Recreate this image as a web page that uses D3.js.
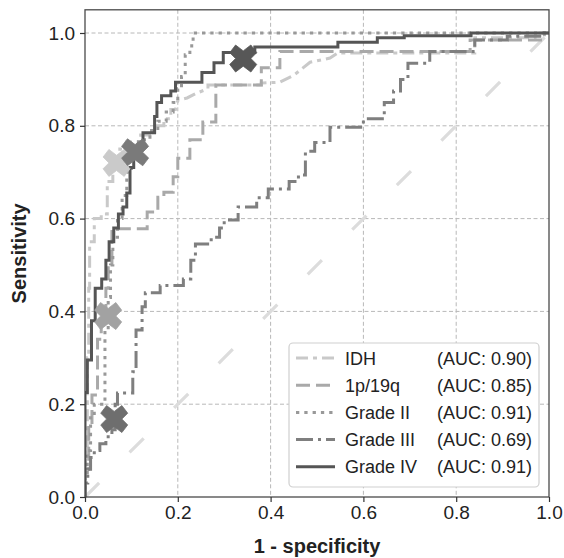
<!DOCTYPE html>
<html>
<head>
<meta charset="utf-8">
<script src="https://cdn.jsdelivr.net/npm/d3@7"></script>
<style>
  html, body { margin: 0; padding: 0; background: #fff; }
  svg text { font-family: "Liberation Sans", Arial, Helvetica, sans-serif; fill: #222; }
</style>
</head>
<body>
<div id="chart"></div>
<script>
// ROC points [1 - specificity, sensitivity]
const idhRoc = [[0,0],[0,0.1],[0.005,0.1],[0.005,0.3],[0.008,0.3],[0.008,0.45],[0.01,0.45],[0.01,0.55],[0.02,0.55],[0.02,0.6],[0.035,0.6],[0.035,0.61],[0.048,0.61],[0.048,0.68],[0.06,0.68],[0.06,0.72],[0.075,0.72],[0.075,0.75],[0.09,0.75],[0.09,0.765],[0.12,0.765],[0.12,0.78],[0.15,0.78],[0.15,0.8],[0.17,0.8],[0.17,0.815],[0.185,0.815],[0.185,0.835],[0.195,0.835],[0.2,0.855],[0.22,0.86],[0.24,0.87],[0.265,0.88],[0.265,0.888],[0.38,0.888],[0.38,0.892],[0.42,0.894],[0.45,0.909],[0.485,0.937],[0.528,0.946],[0.545,0.957],[0.84,0.957],[0.84,0.99],[0.97,0.99],[0.97,1],[1,1]];

const codelRoc = [[0,0],[0,0.06],[0.008,0.06],[0.008,0.15],[0.015,0.15],[0.015,0.22],[0.027,0.22],[0.027,0.34],[0.035,0.34],[0.035,0.39],[0.045,0.39],[0.045,0.45],[0.05,0.45],[0.05,0.5],[0.058,0.5],[0.058,0.578],[0.134,0.578],[0.134,0.614],[0.157,0.614],[0.157,0.646],[0.17,0.646],[0.17,0.657],[0.19,0.657],[0.19,0.69],[0.2,0.69],[0.2,0.73],[0.226,0.73],[0.226,0.77],[0.254,0.77],[0.254,0.808],[0.282,0.808],[0.282,0.888],[0.38,0.888],[0.38,0.925],[0.42,0.925],[0.42,0.96],[0.83,0.96],[0.83,0.985],[0.91,0.985],[0.99,0.985],[0.99,1],[1,1]];

const grade2Roc = [[0,0],[0,0.04],[0.005,0.04],[0.005,0.1],[0.012,0.1],[0.012,0.18],[0.02,0.18],[0.02,0.2],[0.043,0.2],[0.043,0.36],[0.05,0.36],[0.05,0.43],[0.055,0.43],[0.055,0.5],[0.06,0.5],[0.06,0.56],[0.07,0.56],[0.07,0.6],[0.08,0.6],[0.08,0.65],[0.09,0.65],[0.09,0.7],[0.1,0.7],[0.1,0.74],[0.115,0.74],[0.115,0.77],[0.14,0.77],[0.14,0.79],[0.157,0.79],[0.157,0.81],[0.175,0.81],[0.175,0.83],[0.19,0.83],[0.19,0.85],[0.2,0.85],[0.2,0.88],[0.208,0.88],[0.208,0.906],[0.216,0.906],[0.216,0.953],[0.226,0.953],[0.226,0.963],[0.23,0.963],[0.23,0.981],[0.233,0.981],[0.233,1],[1,1]];

const grade3Roc = [[0,0],[0,0.03],[0.006,0.03],[0.006,0.06],[0.012,0.06],[0.012,0.085],[0.02,0.085],[0.02,0.1],[0.032,0.1],[0.032,0.115],[0.045,0.115],[0.045,0.13],[0.058,0.13],[0.058,0.145],[0.065,0.145],[0.065,0.2],[0.07,0.2],[0.07,0.224],[0.103,0.224],[0.103,0.27],[0.11,0.27],[0.11,0.36],[0.123,0.36],[0.123,0.41],[0.13,0.41],[0.13,0.44],[0.162,0.44],[0.162,0.456],[0.212,0.456],[0.212,0.47],[0.228,0.47],[0.228,0.51],[0.238,0.51],[0.238,0.545],[0.272,0.545],[0.272,0.56],[0.29,0.56],[0.29,0.58],[0.3,0.58],[0.3,0.597],[0.33,0.597],[0.33,0.625],[0.37,0.625],[0.37,0.645],[0.395,0.645],[0.395,0.664],[0.44,0.664],[0.44,0.68],[0.46,0.68],[0.46,0.694],[0.475,0.694],[0.475,0.745],[0.495,0.745],[0.495,0.764],[0.528,0.764],[0.528,0.797],[0.6,0.797],[0.6,0.815],[0.645,0.815],[0.645,0.85],[0.665,0.85],[0.665,0.875],[0.68,0.875],[0.68,0.9],[0.696,0.9],[0.696,0.935],[0.743,0.935],[0.743,0.96],[0.84,0.96],[0.84,0.985],[0.91,0.985],[0.91,0.993],[0.99,0.993],[0.99,1],[1,1]];

const grade4Roc = [[0,0],[0,0.225],[0.005,0.225],[0.005,0.295],[0.014,0.295],[0.014,0.38],[0.022,0.38],[0.022,0.45],[0.036,0.45],[0.036,0.47],[0.045,0.47],[0.045,0.51],[0.052,0.51],[0.052,0.55],[0.062,0.55],[0.062,0.58],[0.072,0.58],[0.072,0.61],[0.082,0.61],[0.082,0.625],[0.09,0.625],[0.09,0.655],[0.097,0.655],[0.097,0.71],[0.105,0.71],[0.105,0.73],[0.115,0.73],[0.115,0.76],[0.125,0.76],[0.125,0.785],[0.15,0.785],[0.15,0.82],[0.155,0.82],[0.155,0.85],[0.165,0.85],[0.165,0.865],[0.185,0.865],[0.185,0.875],[0.195,0.875],[0.195,0.894],[0.252,0.894],[0.252,0.915],[0.278,0.915],[0.278,0.936],[0.298,0.936],[0.298,0.958],[0.366,0.958],[0.366,0.97],[0.545,0.97],[0.545,0.98],[0.63,0.98],[0.63,0.99],[0.688,0.99],[0.688,0.994],[0.832,0.994],[0.832,1],[1,1]];

const seriesNames = ["IDH", "1p/19q", "Grade II", "Grade III", "Grade IV"];
const aucLabels = ["(AUC: 0.90)", "(AUC: 0.85)", "(AUC: 0.91)", "(AUC: 0.69)", "(AUC: 0.91)"];
const cutPoints = [[0.068, 0.72], [0.05, 0.39], [0.108, 0.743], [0.063, 0.168], [0.341, 0.945]];
const tickValues = [0, 0.2, 0.4, 0.6, 0.8, 1.0];
const tickLabels = ["0.0", "0.2", "0.4", "0.6", "0.8", "1.0"];

const curves = [idhRoc, codelRoc, grade2Roc, grade3Roc, grade4Roc];
const styles = [
  { color: "#c9c9c9", dash: "12,5,4,5", marker: "#cacaca" },
  { color: "#a9a9a9", dash: "14,6", marker: "#a2a2a2" },
  { color: "#999999", dash: "3.3,5", marker: "#7a7a7a" },
  { color: "#7f7f7f", dash: "17,5,3,5", marker: "#6e6e6e" },
  { color: "#555555", dash: null, marker: "#575757" }
];

const W = 564, H = 558;
const plot = { left: 85, right: 549, top: 9.8, bottom: 497 };

const svg = d3.select("#chart").append("svg")
  .attr("width", W).attr("height", H);

const x = d3.scaleLinear().domain([0, 1]).range([plot.left, plot.right]);
const y = d3.scaleLinear().domain([0, 1.05]).range([plot.bottom, plot.top]);

// grid
const grid = svg.append("g");
grid.selectAll(".gx").data(tickValues.slice(1, 5)).enter().append("line")
  .attr("x1", d => x(d)).attr("x2", d => x(d))
  .attr("y1", plot.top).attr("y2", plot.bottom)
  .attr("stroke", "#b8b8b8").attr("stroke-width", 1).attr("stroke-dasharray", "4,2.5");
grid.selectAll(".gy").data(tickValues.slice(1)).enter().append("line")
  .attr("y1", d => y(d)).attr("y2", d => y(d))
  .attr("x1", plot.left).attr("x2", plot.right)
  .attr("stroke", "#b8b8b8").attr("stroke-width", 1).attr("stroke-dasharray", "4,2.5");

// chance diagonal
svg.append("line")
  .attr("x1", x(0)).attr("y1", y(0)).attr("x2", x(1)).attr("y2", y(1))
  .attr("stroke", "#dcdcdc").attr("stroke-width", 3.2).attr("stroke-dasharray", "20,43");

const line = d3.line().x(d => x(d[0])).y(d => y(d[1]));

svg.append("defs").append("clipPath").attr("id", "clip")
  .append("rect").attr("x", plot.left).attr("y", plot.top)
  .attr("width", plot.right - plot.left).attr("height", plot.bottom - plot.top);

const lines = svg.append("g").attr("clip-path", "url(#clip)");
curves.forEach((c, i) => {
  lines.append("path")
    .datum(c)
    .attr("d", line)
    .attr("fill", "none")
    .attr("stroke", styles[i].color)
    .attr("stroke-width", 3)
    .attr("stroke-dasharray", styles[i].dash)
    .attr("stroke-linejoin", "miter");
});

// X markers at cut points
function xMarker(s) {
  const h = s / 2, q = s / 4.6, r = s / 2 - q;
  const pts = [[-r, 0], [-h, q], [-h + q, h], [0, r], [h - q, h], [h, q], [r, 0], [h, -q], [h - q, -h], [0, -r], [-h + q, -h], [-h, -q]];
  return "M" + pts.map(p => p.join(",")).join("L") + "Z";
}
svg.append("g").selectAll("path").data(cutPoints).enter().append("path")
  .attr("transform", d => `translate(${x(d[0])},${y(d[1])})`)
  .attr("d", xMarker(27))
  .attr("fill", (d, i) => styles[i].marker)
  .attr("stroke", (d, i) => styles[i].marker)
  .attr("stroke-width", 0.8);

// frame
svg.append("rect")
  .attr("x", plot.left).attr("y", plot.top)
  .attr("width", plot.right - plot.left).attr("height", plot.bottom - plot.top)
  .attr("fill", "none").attr("stroke", "#4a4a4a").attr("stroke-width", 1.3);

// axes
const xAxis = svg.append("g")
  .attr("transform", `translate(0,${plot.bottom})`)
  .call(d3.axisBottom(x).tickValues(tickValues).tickFormat((d, i) => tickLabels[i]).tickSize(5).tickPadding(4));
const yAxis = svg.append("g")
  .attr("transform", `translate(${plot.left},0)`)
  .call(d3.axisLeft(y).tickValues(tickValues).tickFormat((d, i) => tickLabels[i]).tickSize(5).tickPadding(5));
[xAxis, yAxis].forEach(a => {
  a.select(".domain").remove();
  a.selectAll(".tick line").attr("stroke", "#333").attr("stroke-width", 1.2);
  a.selectAll(".tick text").style("font-size", "19px").attr("fill", "#222");
});

svg.append("text")
  .attr("x", (plot.left + plot.right) / 2).attr("y", 553)
  .attr("text-anchor", "middle")
  .style("font-size", "20px").style("font-weight", "bold")
  .text("1 - specificity");
svg.append("text")
  .attr("transform", `translate(26,${(plot.top + plot.bottom) / 2}) rotate(-90)`)
  .attr("text-anchor", "middle")
  .style("font-size", "20px").style("font-weight", "bold")
  .text("Sensitivity");

// legend
const lg = svg.append("g");
lg.append("rect")
  .attr("x", 289).attr("y", 343).attr("width", 250).attr("height", 144)
  .attr("rx", 4).attr("fill", "#fff").attr("stroke", "#cfcfcf").attr("stroke-width", 1.2);
seriesNames.forEach((name, i) => {
  const cy = 358 + i * 27.2;
  lg.append("line")
    .attr("x1", 296).attr("x2", 335).attr("y1", cy).attr("y2", cy)
    .attr("stroke", styles[i].color).attr("stroke-width", 3)
    .attr("stroke-dasharray", styles[i].dash);
  lg.append("text").attr("x", 345).attr("y", cy + 6.5)
    .style("font-size", "18px").text(name);
  lg.append("text").attr("x", 437).attr("y", cy + 6.5)
    .style("font-size", "18px").text(aucLabels[i]);
});
</script>
</body>
</html>
